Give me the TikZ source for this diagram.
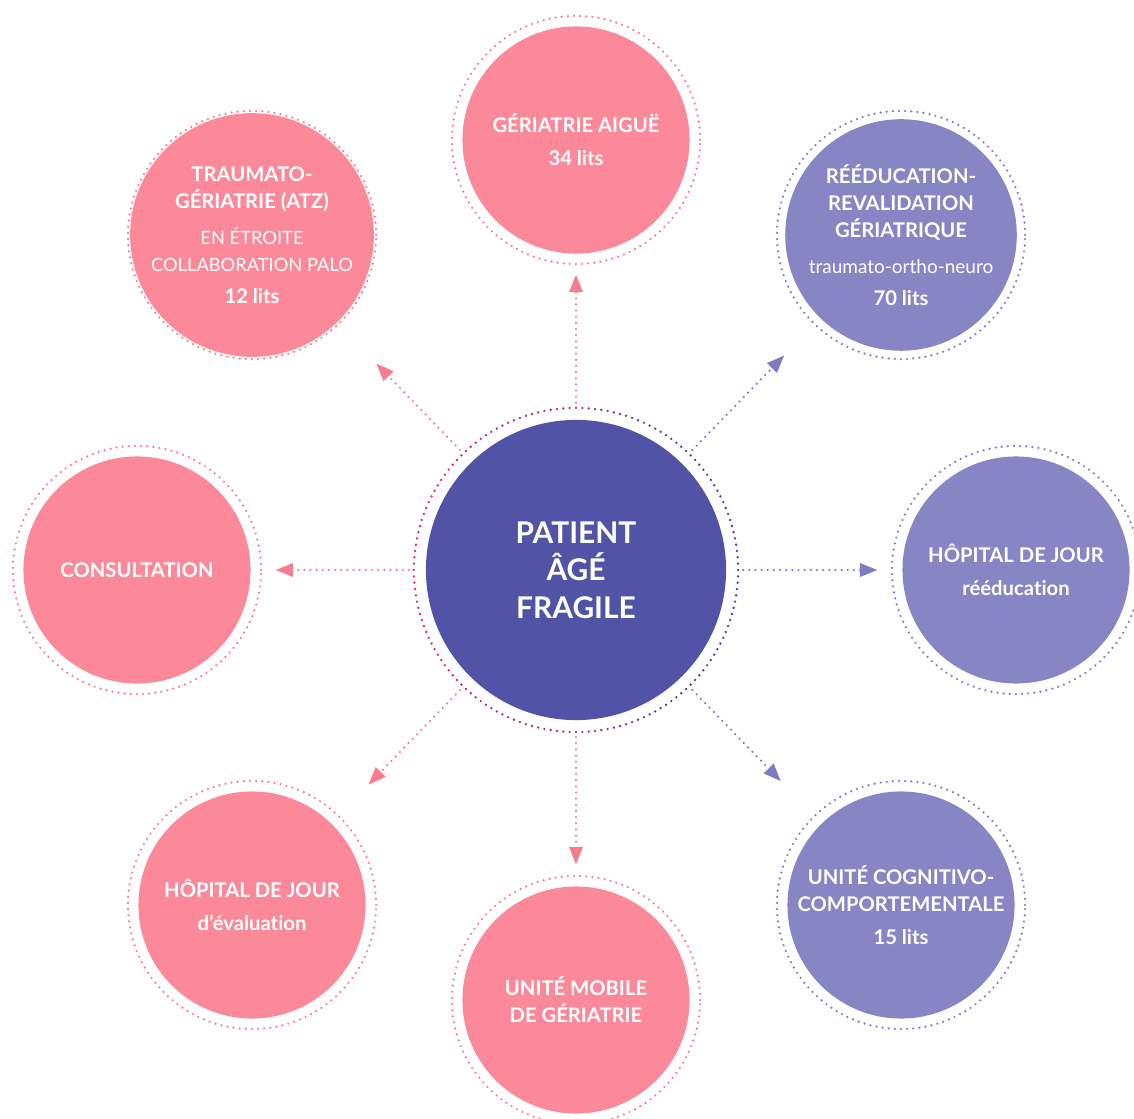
\documentclass[tikz,border=0pt]{standalone}
\usepackage{fontspec}
\setmainfont{Lato}[Ligatures=NoCommon]
\usetikzlibrary{arrows.meta}
\definecolor{rose}{HTML}{FB8999}
\definecolor{lilas}{HTML}{8686C5}
\definecolor{indigo}{HTML}{5153A7}
\definecolor{roseline}{HTML}{F67C8E}
\definecolor{lilasline}{HTML}{7E7CC1}
\definecolor{redring}{HTML}{E3245A}
\definecolor{navyring}{HTML}{463C9C}
\begin{document}
\begin{tikzpicture}[x=0.01cm, y=-0.01cm,
	service/.style={circle, minimum size=2.27cm, inner sep=0mm, outer sep=0mm, text=white, align=center, font=\fontsize{5.75}{7.7}\selectfont\bfseries},
	rosenode/.style={service, fill=rose},
	lilasnode/.style={service, fill=lilas},
	ring/.style={line width=0.7pt, dash pattern=on 0pt off 1.75pt, line cap=round},
	link/.style={line width=0.7pt, dash pattern=on 0pt off 1.75pt, line cap=round, -{Triangle[length=5pt, width=3.8pt]}, shorten <=0.17cm}]
	\useasboundingbox (0,0) rectangle (1134,1119);
	\node[circle, fill=indigo, minimum size=3cm, inner sep=0mm, outer sep=0mm, text=white, align=center, font=\fontsize{8.5}{10.7}\selectfont\bfseries] at (576,570) (patient) {PATIENT\\ÂGÉ\\FRAGILE};
	\node[rosenode] at (576,140) (geri) {GÉRIATRIE AIGUË\\[1.7pt]34 lits};
	\node[rosenode] at (252,235) (traumato) {TRAUMATO-\\GÉRIATRIE (ATZ)\\[2.6pt]{\mdseries\fontsize{5.2}{7.7}\selectfont EN ÉTROITE}\\{\mdseries\fontsize{5.2}{7.7}\selectfont COLLABORATION PALO}\\[1.4pt]12 lits};
	\node[lilasnode] at (901,235) (reeduc) {RÉÉDUCATION-\\REVALIDATION\\GÉRIATRIQUE\\[2.6pt]{\mdseries\fontsize{5.4}{7.7}\selectfont traumato-ortho-neuro}\\[1.4pt]70 lits};
	\node[rosenode] at (137,570) (consult) {CONSULTATION};
	\node[lilasnode] at (1016,570) (hdjreed) {HÔPITAL DE JOUR\\[1.7pt]rééducation};
	\node[rosenode] at (252,905) (hdjeval) {HÔPITAL DE JOUR\\[1.7pt]d’évaluation};
	\node[rosenode] at (576,1000) (mobile) {UNITÉ MOBILE\\DE GÉRIATRIE};
	\node[lilasnode] at (901,905) (cognitif) {UNITÉ COGNITIVO-\\COMPORTEMENTALE\\[1.7pt]15 lits};
	\foreach \n in {geri,traumato,consult,hdjeval,mobile}
		\draw[ring, roseline] (\n) circle (1.24cm);
	\foreach \n in {reeduc,hdjreed,cognitif}
		\draw[ring, lilasline] (\n) circle (1.24cm);
	\foreach \a in {0,2.25,...,357.75}{
		\pgfmathsetmacro\mix{50-50*cos(\a)}
		\fill[redring!\mix!navyring] (patient) ++(\a:1.62cm) circle (0.013cm);
	}
	\draw[link, roseline, shorten >=0.21cm] (patient) -- (geri);
	\draw[link, roseline, shorten >=0.57cm] (patient) -- (traumato);
	\draw[link, lilasline, shorten >=0.52cm] (patient) -- (reeduc);
	\draw[link, roseline, shorten >=0.25cm] (patient) -- (consult);
	\draw[link, lilasline, shorten >=0.25cm] (patient) -- (hdjreed);
	\draw[link, roseline, shorten >=0.54cm] (patient) -- (hdjeval);
	\draw[link, roseline, shorten >=0.22cm] (patient) -- (mobile);
	\draw[link, lilasline, shorten >=0.59cm] (patient) -- (cognitif);
\end{tikzpicture}
\end{document}
